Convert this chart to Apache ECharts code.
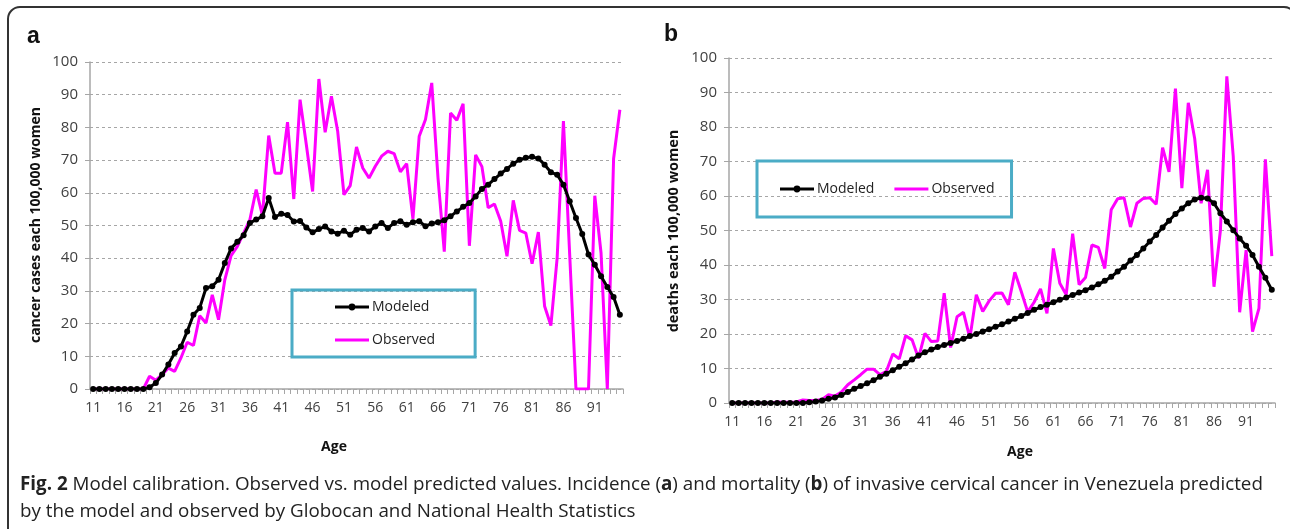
<!DOCTYPE html>
<html>
<head>
<meta charset="utf-8">
<script src="https://cdn.jsdelivr.net/npm/echarts@6/dist/echarts.min.js"></script>
<style>
  html, body { margin: 0; padding: 0; background: #fff; }
  #chart { width: 1290px; height: 529px; }
</style>
</head>
<body>
<div id="chart"></div>
<script>
// ages 11..95
var ages = [];
for (var a = 11; a <= 95; a++) ages.push(String(a));

// panel a: incidence
var incModeled = [0,0,0,0,0,0,0,0,0,0.5,1.8,4.4,7.5,11,13,17.6,22.7,24.8,30.9,31.4,
    33.4,38.5,43,45,47,50.8,51.8,52.8,58.4,52.6,53.6,53.2,51.2,51.4,49.4,47.9,48.9,49.7,48.2,47.5,
    48.4,47.2,48.7,49.2,48.2,49.7,50.8,49.2,50.8,51.3,50.2,51,51.3,49.8,50.6,51,51.6,52.8,54.3,55.7,
    56.9,58.9,61.2,62.5,64.2,65.9,67.3,68.9,70.1,70.7,71,70.5,68.6,66.3,65.5,62.5,57.4,52.3,47.4,41.1,
    38,34.5,31.2,28.1,22.7];
var incObserved = [0,0,0,0,0,0,0,0,0,3.9,2.7,4.4,6.4,5.4,9.5,14.3,13.3,22.4,20.2,28.8,
    21.2,33.4,40.8,43.6,47.7,51.8,61,53,77.5,66,66,81.6,58.1,88.5,74.7,60.4,94.8,78.5,89.5,78.8,
    59.4,62.2,74,67.6,64.5,68.1,71.2,72.7,72,66.4,68.9,52,77.3,82.4,93.6,64.5,42,84.4,82.2,87.2,
    43.8,71.6,68,55.4,56.6,51.3,40.6,57.7,48.5,47.7,38.3,48,25.3,19.4,40.1,81.9,41,0,0,0,
    59.1,41.6,0,70.4,85.4];

// panel b: mortality
var mortModeled = [0,0,0,0,0,0,0,0,0,0,0,0,0.2,0.4,0.7,1.2,1.6,2.3,3.2,4.1,
    4.9,5.7,6.6,7.6,8.5,9.5,10.5,11.5,12.6,13.8,14.7,15.5,16.2,16.8,17.4,18,18.6,19.4,20,20.7,
    21.4,22.1,22.8,23.6,24.4,25.2,26.1,27,27.8,28.5,29.2,29.9,30.6,31.3,32,32.7,33.5,34.4,35.4,36.6,
    38.1,39.5,41.3,42.9,44.8,46.8,48.7,50.9,52.8,54.8,56.4,57.9,59,59.5,59.3,57.9,55,52.6,50.1,47.7,
    45.6,42.9,39.5,36.3,32.8];
var mortObserved = [0,0,0,0,0,0,0,0.3,0.2,0.2,0.3,0.9,0.7,0.7,1,2.4,2,3.2,5.3,6.7,
    8.2,9.8,9.8,8.2,9.2,14.2,12.8,19.5,18.3,13,20.2,17.8,18,31.8,16.1,25,26.3,18.8,31.4,26.5,
    29.6,31.8,31.9,28.5,37.9,32.3,26.4,29.2,33.1,26,44.8,34.7,31.4,49.1,34.3,36.4,45.8,45.1,39,56,
    59.2,59.5,51,57.9,59.3,59.5,57.6,74,67,91.1,62.3,87,76.6,57.9,67.6,33.7,50,94.7,71.5,26.3,
    44.3,20.7,27.4,70.6,42.6];

var yTicks = { min: 0, max: 100, interval: 10 };

var chart = echarts.init(document.getElementById('chart'));

var tickFont = { fontFamily: 'Open Sans', fontSize: 14, color: '#404040' };

function xAx(idx) {
    return {
        type: 'category',
        gridIndex: idx,
        data: ages,
        boundaryGap: true,
        axisLine: { lineStyle: { color: '#a6a6a6', width: 1.5 } },
        axisTick: { show: true, interval: 0, length: 5, lineStyle: { color: '#a6a6a6' } },
        axisLabel: Object.assign({ interval: 4, margin: 12 }, tickFont),
        splitLine: { show: false }
    };
}
function yAx(idx) {
    return {
        type: 'value',
        gridIndex: idx,
        min: yTicks.min,
        max: yTicks.max,
        interval: yTicks.interval,
        axisLine: { show: true, lineStyle: { color: '#a6a6a6', width: 1.5 } },
        axisTick: { show: true, length: 5, lineStyle: { color: '#a6a6a6' } },
        axisLabel: Object.assign({ margin: 12 }, tickFont, { fontSize: 15 }),
        splitLine: { show: true, lineStyle: { color: '#a6a6a6', type: [3, 3], width: 1 } }
    };
}

// legend icons: line with small dot / plain line (tiny corner points keep the 34x14 box)
var box = ' M0,0L0.01,0L0.01,0.01Z M0,14L0.01,14L0.01,13.99Z';
var dotIcon = 'path://M0,5.5L34,5.5L34,8.5L0,8.5Z M17,3.6A3.4,3.4 0 1 1 17,10.4A3.4,3.4 0 1 1 17,3.6Z' + box;
var lineIcon = 'path://M0,5.5L34,5.5L34,8.5L0,8.5Z' + box;
var legendData = [{ name: 'Modeled', icon: dotIcon }, { name: 'Observed', icon: lineIcon }];

var option = {
    animation: false,
    backgroundColor: '#fff',
    grid: [
        { left: 90, right: 667, top: 62, bottom: 140 },
        { left: 729, right: 15, top: 58, bottom: 126 }
    ],
    xAxis: [xAx(0), xAx(1)],
    yAxis: [yAx(0), yAx(1)],
    legend: [
        {
            orient: 'vertical',
            left: 292, top: 290,
            padding: [10, 40, 10, 43],
            itemGap: 19,
            itemWidth: 34, itemHeight: 14,
            borderColor: '#4bacc6', borderWidth: 3,
            textStyle: { fontFamily: 'Open Sans', fontSize: 14, color: '#222', padding: [0, 0, 0, -2] },
            data: legendData
        },
        {
            orient: 'horizontal',
            left: 757, top: 161,
            padding: [21, 17, 21, 23],
            itemGap: 20,
            itemWidth: 34, itemHeight: 14,
            borderColor: '#4bacc6', borderWidth: 3,
            textStyle: { fontFamily: 'Open Sans', fontSize: 14, color: '#222', padding: [0, 0, 0, -2] },
            data: legendData
        }
    ],
    series: [
        {
            name: 'Modeled', type: 'line', xAxisIndex: 0, yAxisIndex: 0,
            data: incModeled, symbol: 'circle', symbolSize: 6, showAllSymbol: true, z: 3,
            lineStyle: { color: '#000', width: 3 }, itemStyle: { color: '#000' }
        },
        {
            name: 'Observed', type: 'line', xAxisIndex: 0, yAxisIndex: 0,
            data: incObserved, showSymbol: false, symbol: 'none', z: 2,
            lineStyle: { color: '#ff00ff', width: 3 }, itemStyle: { color: '#ff00ff' }
        },
        {
            name: 'Modeled', type: 'line', xAxisIndex: 1, yAxisIndex: 1,
            data: mortModeled, symbol: 'circle', symbolSize: 6, showAllSymbol: true, z: 3,
            lineStyle: { color: '#000', width: 3 }, itemStyle: { color: '#000' }
        },
        {
            name: 'Observed', type: 'line', xAxisIndex: 1, yAxisIndex: 1,
            data: mortObserved, showSymbol: false, symbol: 'none', z: 2,
            lineStyle: { color: '#ff00ff', width: 3 }, itemStyle: { color: '#ff00ff' }
        }
    ],
    graphic: [
        {
            type: 'rect', silent: true, z: -1,
            shape: { x: 8, y: 7, width: 1288, height: 560, r: 12 },
            style: { fill: 'none', stroke: '#333', lineWidth: 2 }
        },
        { type: 'text', x: 27, y: 37, style: { text: 'a', font: 'bold 23px "Liberation Sans"', fill: '#111', verticalAlign: 'middle' } },
        { type: 'text', x: 664, y: 35, style: { text: 'b', font: 'bold 23px "Liberation Sans"', fill: '#111', verticalAlign: 'middle' } },
        {
            type: 'text', x: 36, y: 225, rotation: Math.PI / 2,
            style: { text: 'cancer cases each 100,000 women', font: 'bold 14px "Open Sans"', fill: '#111', align: 'center', verticalAlign: 'middle' }
        },
        {
            type: 'text', x: 674, y: 231, rotation: Math.PI / 2,
            style: { text: 'deaths each 100,000 women', font: 'bold 14.5px "Open Sans"', fill: '#111', align: 'center', verticalAlign: 'middle' }
        },
        { type: 'text', x: 334, y: 447, style: { text: 'Age', font: 'bold 14px "Open Sans"', fill: '#111', align: 'center', verticalAlign: 'middle' } },
        { type: 'text', x: 1020, y: 452, style: { text: 'Age', font: 'bold 14px "Open Sans"', fill: '#111', align: 'center', verticalAlign: 'middle' } },
        {
            type: 'text', x: 20, y: 485,
            style: {
                text: '{b|Fig. 2} Model calibration. Observed vs. model predicted values. Incidence ({b|a}) and mortality ({b|b}) of invasive cervical cancer in Venezuela predicted',
                font: '18.8px "Open Sans", sans-serif',
                fill: '#222', verticalAlign: 'middle',
                rich: { b: { font: 'bold 18.8px "Open Sans", sans-serif', fill: '#222' } }
            }
        },
        {
            type: 'text', x: 20, y: 512,
            style: {
                text: 'by the model and observed by Globocan and National Health Statistics',
                font: '18.8px "Open Sans", sans-serif',
                fill: '#222', verticalAlign: 'middle'
            }
        }
    ]
};

chart.setOption(option);
</script>
</body>
</html>
